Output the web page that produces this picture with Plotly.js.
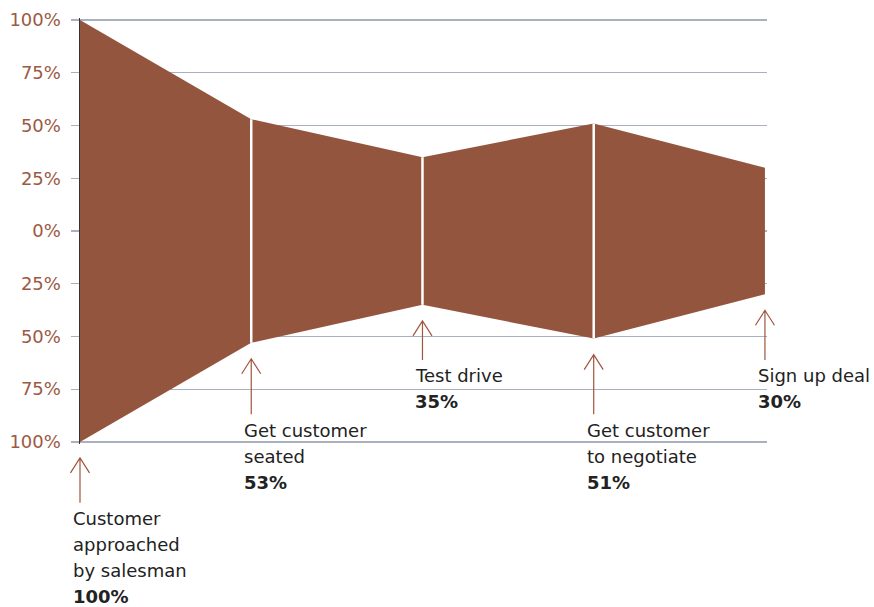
<!DOCTYPE html>
<html>
<head>
<meta charset="utf-8">
<script src="https://cdn.plot.ly/plotly-3.0.1.min.js"></script>
<style>html,body{margin:0;padding:0;background:#fff;}</style>
</head>
<body>
<div id="chart" style="width:874px;height:607px;"></div>
<script>
// ---- data ----
const stageLabels = ['Customer<br>approached<br>by salesman', 'Get customer<br>seated', 'Test drive', 'Get customer<br>to negotiate', 'Sign up deal'];
const stageX = [0, 1, 2, 3, 4];
const stagePct = [100, 53, 35, 51, 30];
const tickVals = [-100, -75, -50, -25, 0, 25, 50, 75, 100];
const tickText = ['100%', '75%', '50%', '25%', '0%', '25%', '50%', '75%', '100%'];

// ---- layout config ----
const W = 874, H = 607;
const M = {l: 80, r: 107, t: 18, b: 163};
const plotH = H - M.t - M.b;
const xRange = [0, 4.012];
const yRange = [-101, 101];
const pxPerUnit = plotH / (yRange[1] - yRange[0]);
const labelLevel = [-136.5, -94.5, -68.7, -94.5, -68.7]; // centre of first label line (data units)
const lineGap = 26;
const headGap = 16, tailGap = 16;
const brown = '#94553f';
const arrowColor = '#a0553f';
const gridColor = '#aab1be';
const font = 'DejaVu Sans, Liberation Sans, sans-serif';

// data -> paper fraction (same linear mapping the axes use)
const xp = v => (v - xRange[0]) / (xRange[1] - xRange[0]);
const yp = v => (v - yRange[0]) / (yRange[1] - yRange[0]);

const traces = [];
// funnel body
traces.push({
  x: stageX.concat(stageX.slice().reverse()),
  y: stagePct.concat(stagePct.map(v => -v).reverse()),
  type: 'scatter', mode: 'lines', fill: 'toself',
  fillcolor: brown, line: {width: 0, color: brown},
  hoverinfo: 'skip', showlegend: false
});
// white separators at interior stages
for (let i = 1; i < stageX.length - 1; i++) {
  traces.push({
    x: [stageX[i], stageX[i]], y: [-stagePct[i], stagePct[i]],
    type: 'scatter', mode: 'lines', line: {color: '#ffffff', width: 2.5},
    hoverinfo: 'skip', showlegend: false
  });
}

const shapes = [];
const annotations = [];
stageX.forEach((sx, i) => {
  const tipOff = -headGap;
  const tailOff = (labelLevel[i] - (-stagePct[i])) * pxPerUnit + tailGap;
  shapes.push({
    type: 'path', xref: 'paper', yref: 'paper',
    xsizemode: 'pixel', ysizemode: 'pixel',
    xanchor: xp(sx), yanchor: yp(-stagePct[i]),
    path: `M-9.5,${tipOff - 15} L0,${tipOff} L9.5,${tipOff - 15} M0,${tipOff} L0,${tailOff}`,
    line: {color: arrowColor, width: 1.2}
  });
  const lines = stageLabels[i].split('<br>').concat(['<b>' + stagePct[i] + '%</b>']);
  lines.forEach((t, k) => {
    annotations.push({
      x: xp(sx), y: yp(labelLevel[i]), xref: 'paper', yref: 'paper',
      xanchor: 'left', yanchor: 'middle', xshift: -9, yshift: -lineGap * k,
      text: t, showarrow: false,
      font: {family: font, size: 18, color: '#222222'}
    });
  });
});

const layout = {
  width: W, height: H,
  margin: M,
  paper_bgcolor: '#ffffff', plot_bgcolor: '#ffffff',
  showlegend: false,
  xaxis: {range: xRange, visible: false, fixedrange: true},
  yaxis: {
    range: yRange, tickvals: tickVals, ticktext: tickText,
    showgrid: true, gridcolor: gridColor, gridwidth: 1.3,
    zeroline: false,
    showline: true, linecolor: '#333333', linewidth: 1.5,
    ticks: 'outside', ticklen: 8, tickcolor: gridColor, tickwidth: 1.3,
    ticklabelstandoff: 6,
    tickfont: {family: font, size: 18, color: '#9b5a44'},
    fixedrange: true
  },
  shapes: shapes,
  annotations: annotations
};

Plotly.newPlot('chart', traces, layout, {displayModeBar: false, staticPlot: true});
</script>
</body>
</html>
